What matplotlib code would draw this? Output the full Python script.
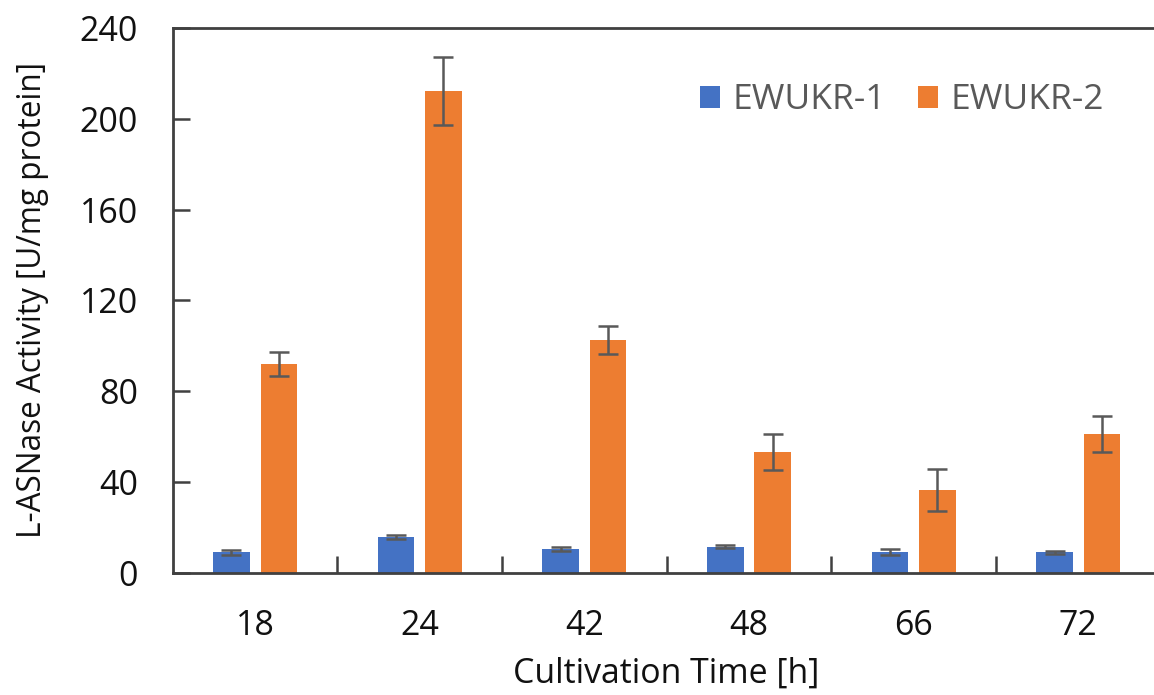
import matplotlib
matplotlib.use('Agg')
import matplotlib.pyplot as plt
import numpy as np

plt.rcParams['font.family'] = ['Open Sans', 'DejaVu Sans']

# 数据
times = ['18', '24', '42', '48', '66', '72']
ewukr1 = [9.0, 15.9, 10.4, 11.5, 9.0, 9.0]
ewukr1_err = [1.2, 0.9, 0.9, 0.8, 1.3, 0.6]
ewukr2 = [91.9, 212.2, 102.5, 53.2, 36.4, 61.1]
ewukr2_err = [5.3, 14.8, 6.2, 7.9, 9.2, 7.9]

BLUE = '#4472C4'
ORANGE = '#ED7D31'
AXC = '#404040'
ERRC = '#595959'

fig = plt.figure(figsize=(11.54, 6.95), dpi=100)
ax = fig.add_axes([0.1497, 0.176, 0.856, 0.7838])

x = np.arange(len(times))
w = 0.222
ekw = dict(ecolor=ERRC, elinewidth=1.8, capsize=7.5, capthick=1.8)
ax.bar(x - 0.144, ewukr1, w, yerr=ewukr1_err, color=BLUE, label='EWUKR-1', error_kw=ekw)
ax.bar(x + 0.144, ewukr2, w, yerr=ewukr2_err, color=ORANGE, label='EWUKR-2', error_kw=ekw)

ax.set_xlim(-0.5, len(times) - 0.5)
ax.set_ylim(0, 240)
ax.set_yticks(np.arange(0, 241, 40))
ax.set_xticks(x)
ax.set_xticklabels(times)
ax.set_xticks(np.arange(0.5, len(times) - 0.5, 1), minor=True)

for s in ax.spines.values():
    s.set_color(AXC)
    s.set_linewidth(2)

ax.tick_params(axis='y', direction='in', length=12, width=1.8, color=AXC,
               labelsize=24.5, pad=25, labelcolor='#111111')
ax.tick_params(axis='x', which='major', length=0, labelsize=24.5, pad=26,
               labelcolor='#111111')
ax.tick_params(axis='x', which='minor', direction='in', length=12, width=1.8,
               color=AXC)

ax.set_xlabel('Cultivation Time [h]', fontsize=24.4, labelpad=10, color='#111111')
ax.set_ylabel('L-ASNase Activity [U/mg protein]', fontsize=22.7, labelpad=22,
              color='#111111')

leg = ax.legend(loc='center left', bbox_to_anchor=(0.5015, 0.867), ncol=2,
                frameon=False, fontsize=25.5, handlelength=0.57, handleheight=0.57,
                handletextpad=0.35, columnspacing=0.9, labelcolor='#595959')

fig.savefig('out.png', dpi=100)
